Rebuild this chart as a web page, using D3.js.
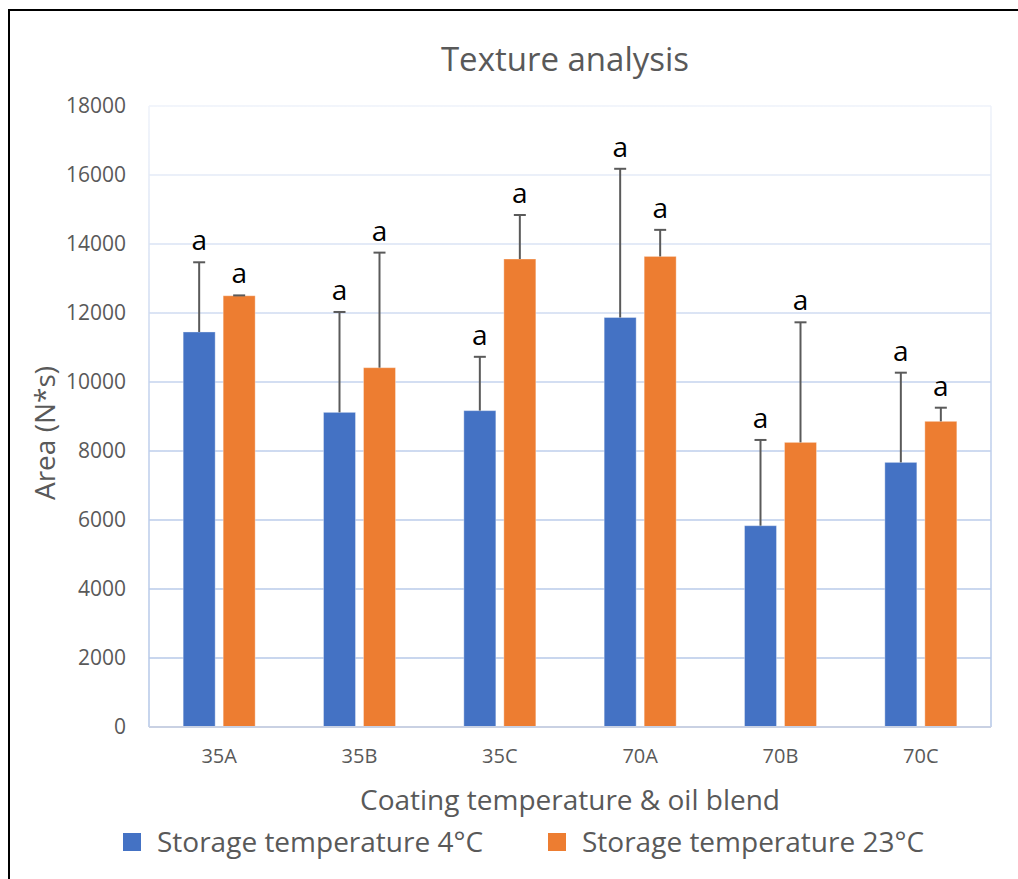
<!DOCTYPE html>
<html>
<head>
<meta charset="utf-8">
<script src="https://cdn.jsdelivr.net/npm/d3@7"></script>
<style>
  html, body { margin: 0; padding: 0; background: #fff; }
  svg { display: block; }
  text { font-family: "Open Sans", "Noto Sans", sans-serif; }
</style>
</head>
<body>
<svg id="chart" width="1018" height="879"></svg>
<script>
// ---- data ----
const categories = ["35A", "35B", "35C", "70A", "70B", "70C"];
const seriesNames = ["Storage temperature 4°C", "Storage temperature 23°C"];
const values4C  = [11450, 9120, 9170, 11870, 5835, 7670];
const err4C     = [2020, 2910, 1560, 4310, 2485, 2600];
const values23C = [12500, 10415, 13565, 13640, 8250, 8860];
const err23C    = [10, 3335, 1275, 770, 3480, 395];
const labels4C  = ["a", "a", "a", "a", "a", "a"];
const labels23C = ["a", "a", "a", "a", "a", "a"];
const yTicks = [0, 2000, 4000, 6000, 8000, 10000, 12000, 14000, 16000, 18000];
const colors = ["#4472C4", "#ED7D31"];

const svg = d3.select("#chart");
const W = 1018, H = 879;
const plot = { left: 149, right: 991, top: 106, bottom: 727 };

// outer frame (only left and top edges visible)
svg.append("path")
  .attr("d", `M9,${H} L9,10 L${W},10`)
  .attr("fill", "none").attr("stroke", "#000").attr("stroke-width", 2);

// gradient for grid lines
const defs = svg.append("defs");
const grad = defs.append("linearGradient")
  .attr("id", "gridGrad").attr("gradientUnits", "userSpaceOnUse")
  .attr("x1", 0).attr("y1", plot.top).attr("x2", 0).attr("y2", plot.bottom);
grad.append("stop").attr("offset", "0").attr("stop-color", "#eef2fa");
grad.append("stop").attr("offset", "0.3").attr("stop-color", "#d3def2");
grad.append("stop").attr("offset", "0.5").attr("stop-color", "#bfcfec");
grad.append("stop").attr("offset", "1").attr("stop-color", "#b4c7e7");

const y = d3.scaleLinear().domain([0, 18000]).range([plot.bottom, plot.top]);
const x0 = d3.scaleBand().domain(categories).range([plot.left, plot.right]).padding(0);
const x1 = d3.scaleBand().domain([0, 1]).range([-36, 36]).paddingInner(0.2);

// grid lines
svg.append("g").selectAll("line").data(yTicks.filter(d => d > 0)).join("line")
  .attr("x1", plot.left).attr("x2", plot.right)
  .attr("y1", d => y(d)).attr("y2", d => y(d))
  .attr("stroke", "url(#gridGrad)").attr("stroke-width", 1.5);
// plot frame sides
svg.append("line").attr("x1", plot.left).attr("x2", plot.left)
  .attr("y1", plot.top).attr("y2", plot.bottom)
  .attr("stroke", "url(#gridGrad)").attr("stroke-width", 1.5);
svg.append("line").attr("x1", plot.right).attr("x2", plot.right)
  .attr("y1", plot.top).attr("y2", plot.bottom)
  .attr("stroke", "url(#gridGrad)").attr("stroke-width", 1.5);

// y axis labels
const yAxis = d3.axisLeft(y).tickValues(yTicks).tickSize(0).tickPadding(23).tickFormat(d3.format("d"));
const gy = svg.append("g").attr("transform", `translate(${plot.left},0)`).call(yAxis);
gy.select(".domain").remove();
gy.selectAll("text").attr("fill", "#595959").style("font-size", "21px")
  .style("font-family", '"Open Sans", sans-serif');

// bars
const series = [
  { vals: values4C, errs: err4C, labs: labels4C },
  { vals: values23C, errs: err23C, labs: labels23C }
];
series.forEach((s, si) => {
  const g = svg.append("g");
  const data = categories.map((c, i) => ({ c, v: s.vals[i], e: s.errs[i], l: s.labs[i] }));
  g.selectAll("rect").data(data).join("rect")
    .attr("x", d => x0(d.c) + x0.bandwidth() / 2 + x1(si))
    .attr("width", x1.bandwidth())
    .attr("y", d => y(d.v))
    .attr("height", d => y(0) - y(d.v))
    .attr("fill", colors[si])
    .attr("stroke", "#ffffff").attr("stroke-opacity", 0.35).attr("stroke-width", 1);
  const cx = d => x0(d.c) + x0.bandwidth() / 2 + x1(si) + x1.bandwidth() / 2;
  // error bars
  g.selectAll("line.err").data(data).join("line").attr("class", "err")
    .attr("x1", cx).attr("x2", cx)
    .attr("y1", d => y(d.v)).attr("y2", d => y(d.v + d.e))
    .attr("stroke", "#5a5a5a").attr("stroke-width", 2);
  g.selectAll("line.cap").data(data).join("line").attr("class", "cap")
    .attr("x1", d => cx(d) - 6).attr("x2", d => cx(d) + 6)
    .attr("y1", d => y(d.v + d.e)).attr("y2", d => y(d.v + d.e))
    .attr("stroke", "#5a5a5a").attr("stroke-width", 2);
  // letter labels
  g.selectAll("text").data(data).join("text")
    .attr("x", cx).attr("y", d => y(d.v + d.e) - 12)
    .attr("text-anchor", "middle").attr("fill", "#000")
    .style("font-size", "28px")
    .text(d => d.l);
});

// x axis line
svg.append("line").attr("x1", plot.left).attr("x2", plot.right)
  .attr("y1", plot.bottom).attr("y2", plot.bottom)
  .attr("stroke", "#c9d1e3").attr("stroke-width", 1.8);

// x axis labels
const xAxis = d3.axisBottom(x0).tickSize(0).tickPadding(22);
const gx = svg.append("g").attr("transform", `translate(0,${plot.bottom})`).call(xAxis);
gx.select(".domain").remove();
gx.selectAll("text").attr("fill", "#595959").style("font-size", "20px")
  .style("font-family", '"Open Sans", sans-serif');

// titles
svg.append("text").attr("x", 565).attr("y", 71).attr("text-anchor", "middle")
  .attr("fill", "#595959").style("font-size", "33px").text("Texture analysis");
svg.append("text").attr("x", 570).attr("y", 810).attr("text-anchor", "middle")
  .attr("fill", "#595959").style("font-size", "28px").text("Coating temperature & oil blend");
svg.append("text").attr("transform", "translate(55,433) rotate(-90)").attr("text-anchor", "middle")
  .attr("fill", "#595959").style("font-size", "28px").text("Area (N*s)");

// legend
const legendX = [123, 548];
seriesNames.forEach((name, i) => {
  svg.append("rect").attr("x", legendX[i]).attr("y", 833).attr("width", 18).attr("height", 18)
    .attr("fill", colors[i]);
  svg.append("text").attr("x", legendX[i] + 34).attr("y", 852)
    .attr("fill", "#595959").style("font-size", "28px").text(name);
});
</script>
</body>
</html>
